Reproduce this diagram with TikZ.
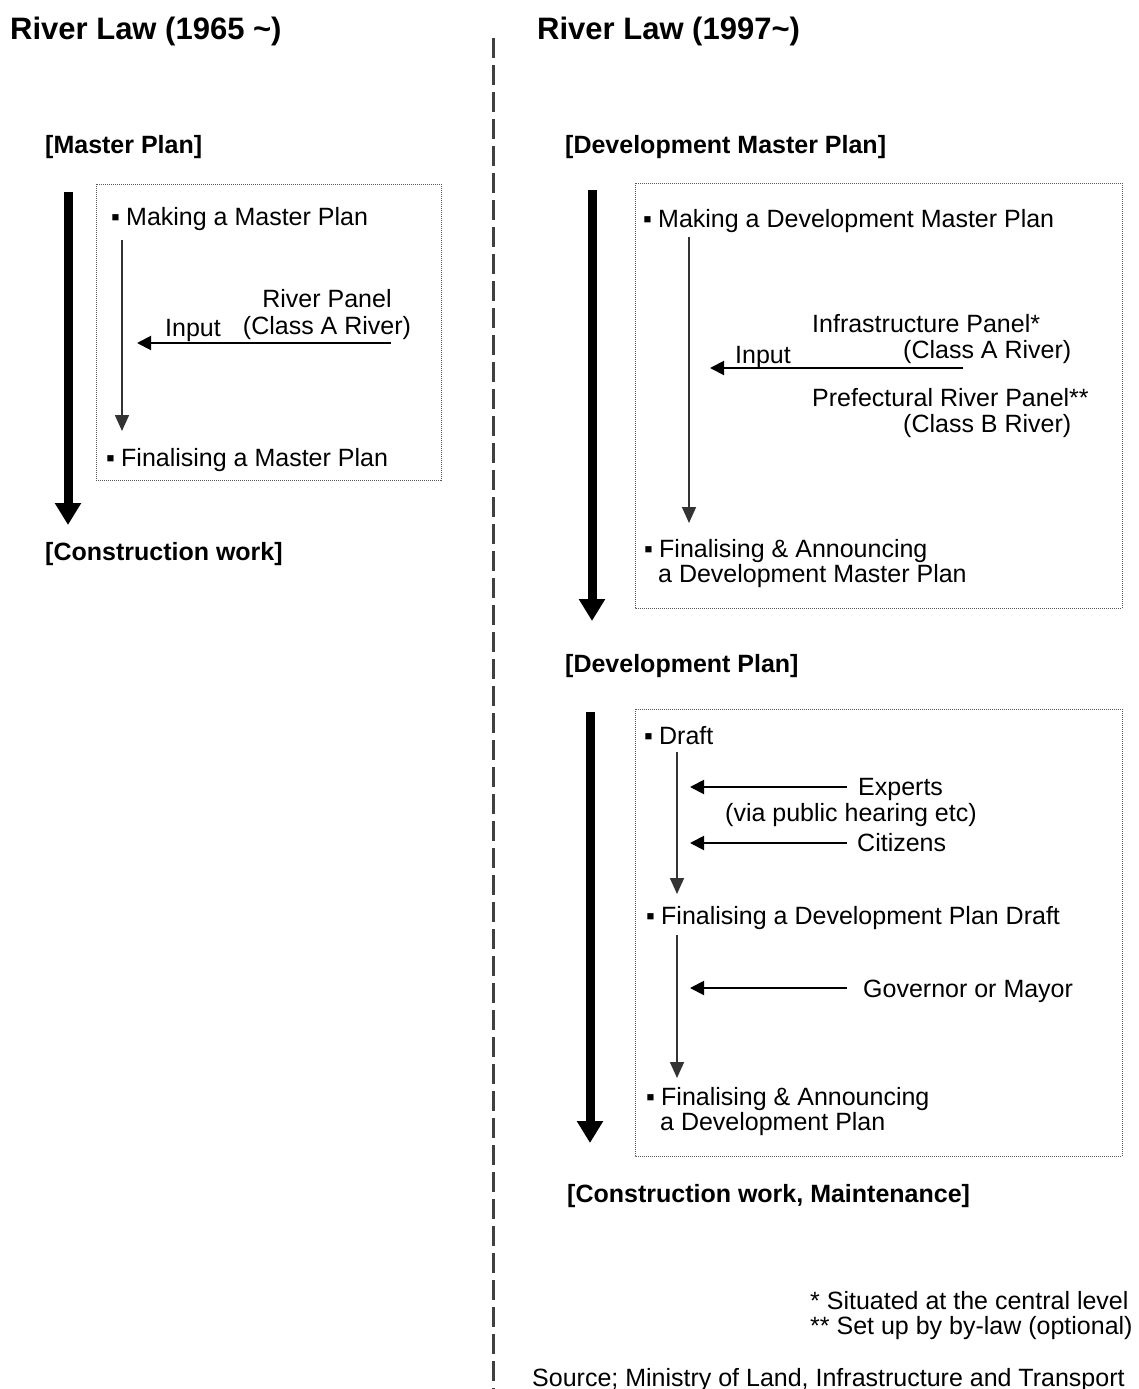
\documentclass[tikz,border=0pt]{standalone}
\usepackage{fontspec}
\setmainfont{Liberation Sans}
\usetikzlibrary{arrows.meta}
\newcommand{\itembul}{\makebox[15pt][l]{▪}}
\begin{document}
\begin{tikzpicture}[x=1pt,y=-1pt,
  txt/.style={anchor=base west, inner sep=0pt, align=left, font=\fontsize{25}{25}\selectfont},
  hd/.style={anchor=base west, inner sep=0pt, font=\bfseries\fontsize{25}{25}\selectfont},
  ttl/.style={anchor=base west, inner sep=0pt, font=\bfseries\fontsize{31}{34}\selectfont},
  bigarrow/.style={line width=9pt, -{Triangle[width=25pt,length=22pt]}},
  flow/.style={line width=1.6pt, draw=black!80, -{Triangle[width=14pt,length=16pt]}},
  inarrow/.style={line width=2pt, -{Triangle[width=14pt,length=14pt]}},
  dotbox/.style={draw=black!65, line width=1pt, dash pattern=on 1pt off 1pt},
  divider/.style={draw=black!75, line width=3pt, dash pattern=on 20pt off 7pt}]
\useasboundingbox (0,0) rectangle (1138,1389);
\fill[white] (0,0) rectangle (1138,1389);

% ---------------- divider
\coordinate (dv1) at (493,38);
\coordinate (dv2) at (493,1389);
\draw[divider] (dv1) -- (dv2);

% ---------------- left column
\node[ttl] (tl) at (10,40) {River Law (1965 \textasciitilde)};
\node[hd] (mpl) at (45,153) {[Master Plan]};
\draw[dotbox] (96,184) rectangle (441,480);
\node[txt] (mkl) at (111,225) {\itembul Making a Master Plan};
\node[txt] (fnl) at (106,466) {\itembul Finalising a Master Plan};
\node[anchor=base, inner sep=0pt, align=center, font=\fontsize{25}{27}\selectfont] (rp) at (327,334) {River Panel\\(Class A River)};
\node[txt] (inl) at (165,336) {Input};
\node[hd] (cwl) at (45,560) {[Construction work]};

\coordinate (la1) at (68,192);
\coordinate (la2) at (68,525);
\draw[bigarrow] (la1) -- (la2);
\coordinate (lf1) at (122,240);
\coordinate (lf2) at (122,431);
\draw[flow] (lf1) -- (lf2);
\coordinate (li1) at (391,343);
\coordinate (li2) at (137,343);
\draw[inarrow] (li1) -- (li2);

% ---------------- right column
\node[ttl] (tr) at (537,40) {River Law (1997\textasciitilde)};
\node[hd] (dmp) at (565,153) {[Development Master Plan]};
\draw[dotbox] (635,183) rectangle (1122,608);
\node[txt] (mkr) at (643,227) {\itembul Making a Development Master Plan};
\node[txt] (ipn) at (812,332) {Infrastructure Panel*};
\node[txt] (ica) at (903,358) {(Class A River)};
\node[txt] (inr) at (735,363) {Input};
\node[txt] (prp) at (812,406) {Prefectural River Panel**};
\node[txt] (icb) at (903,432) {(Class B River)};
\node[txt] (fnr) at (644,582) {\itembul Finalising \& Announcing\\\hspace*{14pt}a Development Master Plan};

\coordinate (ra1) at (592,190);
\coordinate (ra2) at (592,621);
\draw[bigarrow] (ra1) -- (ra2);
\coordinate (rf1) at (689,237);
\coordinate (rf2) at (689,523);
\draw[flow] (rf1) -- (rf2);
\coordinate (ri1) at (963,368);
\coordinate (ri2) at (710,368);
\draw[inarrow] (ri1) -- (ri2);

\node[hd] (dpl) at (565,672) {[Development Plan]};
\draw[dotbox] (635,709) rectangle (1122,1156);
\node[txt] (drf) at (644,744) {\itembul Draft};
\node[txt] (exp) at (858,795) {Experts};
\node[txt] (via) at (725,821) {(via public hearing etc)};
\node[txt] (cit) at (857,851) {Citizens};
\node[txt] (fpd) at (646,924) {\itembul Finalising a Development Plan Draft};
\node[txt] (gov) at (863,997) {Governor or Mayor};
\node[txt] (fpa) at (646,1130) {\itembul Finalising \& Announcing\\\hspace*{14pt}a Development Plan};
\node[hd] (cwr) at (567,1202) {[Construction work, Maintenance]};

\coordinate (rb1) at (590,712);
\coordinate (rb2) at (590,1143);
\draw[bigarrow] (rb1) -- (rb2);
\coordinate (df1) at (677,752);
\coordinate (df2) at (677,894);
\draw[flow] (df1) -- (df2);
\coordinate (df3) at (677,935);
\coordinate (df4) at (677,1078);
\draw[flow] (df3) -- (df4);
\coordinate (ex1) at (847,787);
\coordinate (ex2) at (690,787);
\draw[inarrow] (ex1) -- (ex2);
\coordinate (ci1) at (847,843);
\coordinate (ci2) at (690,843);
\draw[inarrow] (ci1) -- (ci2);
\coordinate (go1) at (847,988);
\coordinate (go2) at (690,988);
\draw[inarrow] (go1) -- (go2);

% ---------------- notes
\node[txt] (n1) at (810,1309) {* Situated at the central level};
\node[txt] (n2) at (810,1334) {** Set up by by-law (optional)};
\node[txt] (src) at (532,1386) {Source; Ministry of Land, Infrastructure and Transport};
\end{tikzpicture}
\end{document}
